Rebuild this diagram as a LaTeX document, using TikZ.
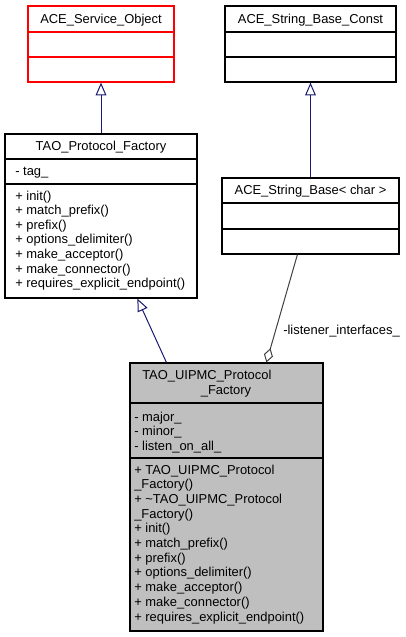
\documentclass[tikz,border=0pt]{standalone}
\usepackage{fontspec}
\setmainfont{Liberation Sans}
\usetikzlibrary{arrows.meta,calc}
\definecolor{edgeblue}{HTML}{191970}
\definecolor{aggrey}{HTML}{404040}
\definecolor{fillgrey}{HTML}{BFBFBF}
\definecolor{boxred}{HTML}{FF0000}
\tikzset{
  cls/.style={draw=black, line width=0.9pt, inner sep=0pt},
  sep/.style={draw=black, line width=0.9pt},
  txt/.style={font=\fontsize{9.7pt}{11pt}\selectfont, inner sep=0pt, anchor=base west},
  ttl/.style={font=\fontsize{9.7pt}{11pt}\selectfont, inner sep=0pt, anchor=base},
  inherit/.style={draw=edgeblue, line width=0.75pt, -{Triangle[open, length=9.5pt, width=8pt]}},
  aggr/.style={draw=aggrey, line width=0.75pt, -{Diamond[open, length=11pt, width=7pt]}}
}
\begin{document}
\begin{tikzpicture}[x=0.75pt,y=-0.75pt]
\useasboundingbox (0,0) rectangle (405,637);

% ACE_Service_Object
\node[cls, draw=boxred, minimum width=109.5pt, minimum height=57pt] (aso) at (101,44) {};
\draw[line width=0.9pt, draw=boxred] (28,32) -- (174,32);
\draw[line width=0.9pt, draw=boxred] (28,57) -- (174,57);
\node[ttl] (asot) at (101,23) {ACE\_Service\_Object};

% ACE_String_Base_Const
\node[cls, minimum width=128.25pt, minimum height=57pt] (asbc) at (310.5,44) {};
\draw[sep] (225,32) -- (396,32);
\draw[sep] (225,57) -- (396,57);
\node[ttl] (asbct) at (310.5,23) {ACE\_String\_Base\_Const};

% TAO_Protocol_Factory
\node[cls, fill=white, minimum width=144pt, minimum height=123pt] (tpf) at (101,216) {};
\draw[sep] (5,159) -- (197,159);
\draw[sep] (5,184) -- (197,184);
\node[ttl] (tpft) at (101,150) {TAO\_Protocol\_Factory};
\node[txt] (tpfa1) at (15,175) {- tag\_};
\node[txt] (tpfm1) at (15,200) {+ init()};
\node[txt] (tpfm2) at (15,214.6) {+ match\_prefix()};
\node[txt] (tpfm3) at (15,229.2) {+ prefix()};
\node[txt] (tpfm4) at (15,243.8) {+ options\_delimiter()};
\node[txt] (tpfm5) at (15,258.4) {+ make\_acceptor()};
\node[txt] (tpfm6) at (15,273) {+ make\_connector()};
\node[txt] (tpfm7) at (15,287.6) {+ requires\_explicit\_endpoint()};

% ACE_String_Base< char >
\node[cls, minimum width=132.75pt, minimum height=57pt] (asb) at (310.5,216) {};
\draw[sep] (222,203) -- (399,203);
\draw[sep] (222,229) -- (399,229);
\node[ttl] (asbt) at (310.5,194) {ACE\_String\_Base< char >};

% TAO_UIPMC_Protocol_Factory
\node[cls, fill=fillgrey, minimum width=144.75pt, minimum height=201pt] (uip) at (226.5,497) {};
\draw[sep] (130,403) -- (323,403);
\draw[sep] (130,458) -- (323,458);
\node[txt] (uipt1) at (142,379) {TAO\_UIPMC\_Protocol};
\node[ttl] (uipt2) at (226,394) {\_Factory};
\node[txt] (uipa1) at (134,421) {- major\_};
\node[txt] (uipa2) at (134,435.5) {- minor\_};
\node[txt] (uipa3) at (134,450) {- listen\_on\_all\_};
\node[txt] (uipm1) at (134,474) {+ TAO\_UIPMC\_Protocol};
\node[txt] (uipm2) at (134,488.7) {\_Factory()};
\node[txt] (uipm3) at (134,503.4) {+ \textasciitilde TAO\_UIPMC\_Protocol};
\node[txt] (uipm4) at (134,518.1) {\_Factory()};
\node[txt] (uipm5) at (134,532.8) {+ init()};
\node[txt] (uipm6) at (134,547.5) {+ match\_prefix()};
\node[txt] (uipm7) at (134,562.2) {+ prefix()};
\node[txt] (uipm8) at (134,576.9) {+ options\_delimiter()};
\node[txt] (uipm9) at (134,591.6) {+ make\_acceptor()};
\node[txt] (uipm10) at (134,606.3) {+ make\_connector()};
\node[txt] (uipm11) at (134,621) {+ requires\_explicit\_endpoint()};

% connectors
\draw[inherit] (tpf.north) -- (aso.south);
\draw[inherit] (asb.north) -- (asbc.south);
\draw[inherit] ($(uip.north west)+(37,0)$) -- ($(tpf.south west)+(133,0)$);
\draw[aggr] ($(asb.south west)+(76,0)$) -- ($(uip.north west)+(137,0)$);
\node[txt] (agl) at (283,334) {-listener\_interfaces\_};
\end{tikzpicture}
\end{document}
